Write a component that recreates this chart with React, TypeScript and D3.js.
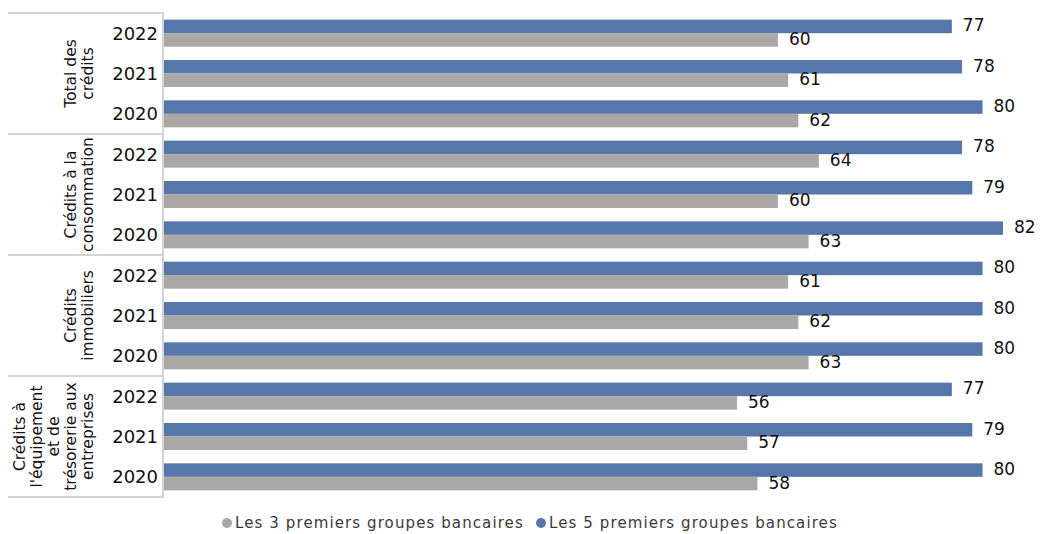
import React from "react";
import * as d3 from "d3";

const categories = [
  ["Total des", "crédits"],
  ["Crédits à la", "consommation"],
  ["Crédits", "immobiliers"],
  ["Crédits à", "l'équipement", "et de", "trésorerie aux", "entreprises"],
];
const years = ["2022", "2021", "2020"];
const top5 = [
  [77, 78, 80],
  [78, 79, 82],
  [80, 80, 80],
  [77, 79, 80],
];
const top3 = [
  [60, 61, 62],
  [64, 60, 63],
  [61, 62, 63],
  [56, 57, 58],
];
const seriesNames = ["Les 3 premiers groupes bancaires", "Les 5 premiers groupes bancaires"];

const W = 1040;
const H = 534;
const BLUE = "#5677a9";
const GRAY = "#aca7a7";
const LINE = "#d4d4d4";
const FONT = "'DejaVu Sans', sans-serif";

export default function App() {
  const top = 13;
  const bottom = 497;
  const axisX = 163;
  const x = d3.scaleLinear().domain([0, 82]).range([164, 1003]);
  const groupY = d3.scaleBand<number>().domain(d3.range(categories.length)).range([top, bottom]).padding(0);
  const rows = categories.flatMap((_, gi) => years.map((_, yi) => `${gi}-${yi}`));
  const rowY = d3.scaleBand<string>().domain(rows).range([top, bottom]).paddingInner(0.33).paddingOuter(0.165);
  const sub = d3.scaleBand<string>().domain(["top5", "top3"]).range([0, rowY.bandwidth()]).padding(0);

  return (
    <svg width={W} height={H} style={{ position: "absolute", left: 0, top: 0, background: "#fff" }} fontFamily={FONT}>
      {categories.map((_, gi) => (
        <line key={"sep" + gi} x1={8} x2={axisX} y1={groupY(gi)!} y2={groupY(gi)!} stroke={LINE} strokeWidth={2} />
      ))}
      <line x1={8} x2={axisX} y1={bottom} y2={bottom} stroke={LINE} strokeWidth={2} />
      <line x1={axisX} x2={axisX} y1={top - 1} y2={bottom + 1} stroke={LINE} strokeWidth={2} />

      {categories.map((lines, gi) => {
        const cy = groupY(gi)! + groupY.bandwidth() / 2;
        const n = lines.length;
        const lastX = 93;
        const step = 17;
        return (
          <g key={"cat" + gi}>
            {lines.map((ln, li) => (
              <text
                key={li}
                transform={`translate(${lastX - (n - 1 - li) * step},${cy}) rotate(-90)`}
                textAnchor="middle"
                fontSize={15.5}
                fill="#111"
              >
                {ln}
              </text>
            ))}
          </g>
        );
      })}

      {categories.map((_, gi) =>
        years.map((yr, yi) => {
          const key = `${gi}-${yi}`;
          const y0 = rowY(key)!;
          const cy = y0 + rowY.bandwidth() / 2;
          const v5 = top5[gi][yi];
          const v3 = top3[gi][yi];
          const yb = y0 + sub("top5")!;
          const yg = y0 + sub("top3")!;
          return (
            <g key={key}>
              <text x={158} y={cy} textAnchor="end" dominantBaseline="central" fontSize={18} fill="#111">
                {yr}
              </text>
              <rect x={x(0)} y={yb} width={x(v5) - x(0)} height={sub.bandwidth()} fill={BLUE} />
              <rect x={x(0)} y={yg} width={x(v3) - x(0)} height={sub.bandwidth()} fill={GRAY} />
              <text x={x(v5) + 11} y={yb + sub.bandwidth() / 2 - 1} dominantBaseline="central" fontSize={17} fill="#111">
                {v5}
              </text>
              <text x={x(v3) + 11} y={yg + sub.bandwidth() / 2 - 1} dominantBaseline="central" fontSize={17} fill="#111">
                {v3}
              </text>
            </g>
          );
        })
      )}

      <g fontSize={15} fill="#3a3a3a" letterSpacing={1.1}>
        <circle cx={227} cy={523} r={5} fill={GRAY} />
        <text x={235} y={523} dominantBaseline="central">{seriesNames[0]}</text>
        <circle cx={541} cy={523} r={5} fill={BLUE} />
        <text x={549} y={523} dominantBaseline="central">{seriesNames[1]}</text>
      </g>
    </svg>
  );
}
